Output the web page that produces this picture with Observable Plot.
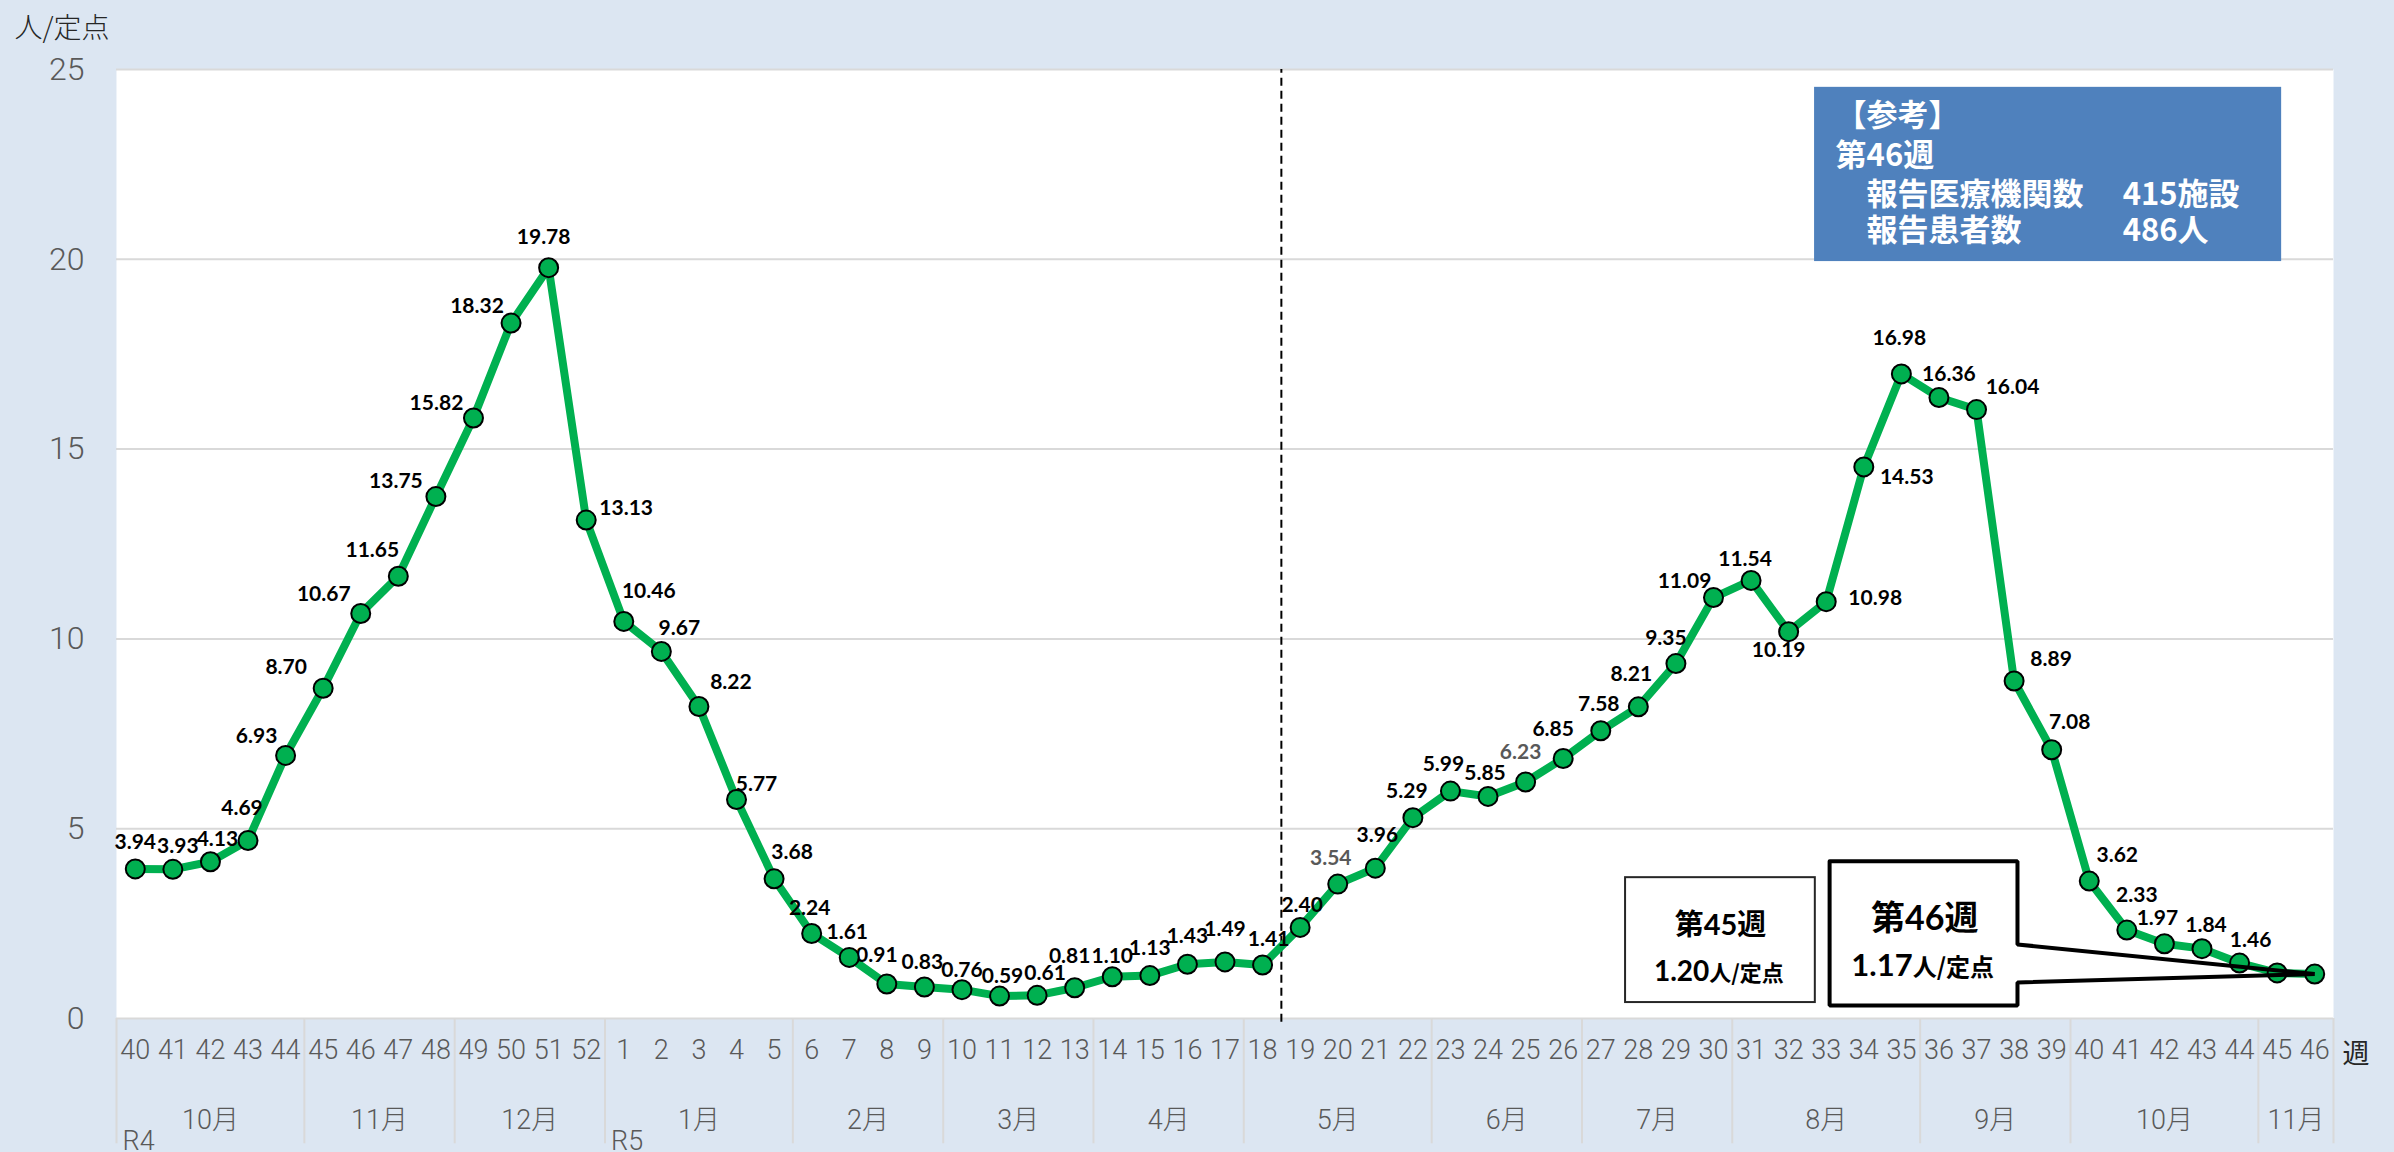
<!DOCTYPE html>
<html><head><meta charset="utf-8">
<script src="https://cdn.jsdelivr.net/npm/d3@7"></script>
<script src="https://cdn.jsdelivr.net/npm/@observablehq/plot@0.6"></script>
<style>
html,body{margin:0;padding:0;background:#dce6f2;}
#chart svg{display:block;}
</style></head><body><div id="chart"></div>
<script>
// ---- data ----
const weeksR4 = [40,41,42,43,44,45,46,47,48,49,50,51,52];
const valuesR4 = [3.94,3.93,4.13,4.69,6.93,8.70,10.67,11.65,13.75,15.82,18.32,19.78,13.13];
const weeksR5 = [1,2,3,4,5,6,7,8,9,10,11,12,13,14,15,16,17,18,19,20,21,22,23,24,25,26,27,28,29,30,31,32,33,34,35,36,37,38,39,40,41,42,43,44,45,46];
const valuesR5 = [10.46,9.67,8.22,5.77,3.68,2.24,1.61,0.91,0.83,0.76,0.59,0.61,0.81,1.10,1.13,1.43,1.49,1.41,2.40,3.54,3.96,5.29,5.99,5.85,6.23,6.85,7.58,8.21,9.35,11.09,11.54,10.19,10.98,14.53,16.98,16.36,16.04,8.89,7.08,3.62,2.33,1.97,1.84,1.46,1.20,1.17];
const monthNames = ["10月","11月","12月","1月","2月","3月","4月","5月","6月","7月","8月","9月","10月","11月"];
const monthWeekCounts = [5,4,4,5,4,4,4,5,4,4,5,4,5,2];
const eraNames = ["R4","R5"];
const yTicks = [0,5,10,15,20,25];
const grayLabelWeeksR5 = [20,25];
const infoLines = ["【参考】","第46週","報告医療機関数","報告患者数"];
const infoValues = ["415施設","486人"];
const prevWeek = {title:"第45週", value:"1.20", unit:"人/定点"};
const currWeek = {title:"第46週", value:"1.17", unit:"人/定点"};

// label offsets (px) per point: [dx, dy]
const labelOffsets = [
 [0,-27],[5,-23],[7,-22],[-6,-32],[-29,-19],[-37,-21],[-37,-19],[-26,-26],[-40,-15],[-37,-15],[-34,-17],[-5,-30],[40,-12],
 [25,-30],[18,-23],[32,-24],[20,-15],[18,-27],[-2,-25],[-2,-25],[-10,-29],[-2,-25],[0,-19],[3,-20],[8,-22],[-5,-31],
 [0,-20],[0,-27],[0,-28],[0,-33],[6,-26],[2,-22],[-7,-26],[2,-33],[-6,-26],[-7,-27],[-3,-23],[-5,-30],[-10,-29],
 [-2,-26],[-7,-33],[-10,-25],[-29,-16],[-6,-21],[-10,19],[49,-3],[43,10],[-2,-36],[10,-23],[36,-22],[37,-22],
 [18,-27],[28,-26],[10,-35],[-7,-25],[4,-23],[11,-23],null,null
];

// ---- derived tables ----
const rows = [
  ...weeksR4.map((w,k)=>({era:"R4", week:w, value:valuesR4[k]})),
  ...weeksR5.map((w,k)=>({era:"R5", week:w, value:valuesR5[k]}))
].map((d,i)=>({...d, i}));

const months = [];
{ let s = 0; monthNames.forEach((m,k)=>{ const n = monthWeekCounts[k]; months.push({name:m, start:s, end:s+n-1, center:(2*s+n-1)/2}); s += n; }); }
const boundaries = [...months.map(m=>m.start-0.5), months[months.length-1].end+0.5];
const eras = eraNames.map(e=>({name:e, at: rows.find(r=>r.era===e).i - 0.5}));
const splitAt = rows.find(r=>r.era==="R5" && r.week===19).i - 0.5;
const last = rows[rows.length-1];

const NUM = "Lato, 'Noto Sans CJK JP', sans-serif";
const TICK = "Roboto, 'Noto Sans CJK JP', sans-serif";
const JP = "'Noto Sans CJK JP', sans-serif";

const labelMarks = rows.filter(d=>labelOffsets[d.i]).map(d=>Plot.text([d], {
  x:"i", y:"value", text: r=>r.value.toFixed(2),
  dx: labelOffsets[d.i][0], dy: labelOffsets[d.i][1],
  fontSize: 21, fontWeight: "bold", fontFamily: NUM,
  fill: (d.era==="R5" && grayLabelWeeksR5.includes(d.week)) ? "#595959" : "#000"
}));

// annotation geometry (data units)
const info = {x1:44.69, x2:57.12, y1:19.94, y2:24.53};
const box1 = {x1:39.66, x2:44.71, y1:0.42, y2:3.71};
const box2 = {x1:45.09, x2:50.09, y1:0.34, y2:4.14, wTop:1.95, wBot:0.95};
const callout = [
  [box2.x1,box2.y2],[box2.x2,box2.y2],[box2.x2,box2.wTop],[last.i,last.value],
  [box2.x2,box2.wBot],[box2.x2,box2.y1],[box2.x1,box2.y1],[box2.x1,box2.y2]
];

const infoText = (t, x, y) => Plot.text([t], {x, y, text: d=>d, textAnchor: "start", lineAnchor: "bottom", fontSize: 31, fontWeight: "bold", fontFamily: JP, fill: "white"});

const plot = Plot.plot({
  width: 2394, height: 1152,
  marginLeft: 116, marginRight: 61, marginTop: 69, marginBottom: 134,
  style: {background: "#dce6f2", overflow: "visible"},
  x: {type: "linear", domain: [-0.5, 58.5], axis: null},
  y: {type: "linear", domain: [0, 25], axis: null},
  marks: [
    Plot.frame({fill: "white", stroke: null}),
    Plot.ruleY(yTicks, {stroke: "#d9d9d9", strokeWidth: 2}),
    Plot.ruleX(boundaries, {y1: 0, y2: -3.3, stroke: "#d9d9d9", strokeWidth: 2}),
    Plot.ruleX([splitAt], {y1: -0.1, y2: 25, stroke: "#000", strokeWidth: 2, strokeDasharray: "8,5"}),
    // y tick labels
    Plot.text(yTicks, {y: d=>d, frameAnchor: "left", dx: -32, textAnchor: "end", text: d=>String(d), fontSize: 32, fontWeight: 300, fontFamily: TICK, fill: "#595959"}),
    Plot.text(["人/定点"], {frameAnchor: "top-left", dx: -102, dy: -51, textAnchor: "start", text: d=>d, fontSize: 28, fontWeight: 300, fontFamily: JP, fill: "#262626"}),
    // week labels
    Plot.text(rows, {x: "i", frameAnchor: "bottom", dy: 40, text: d=>String(d.week), fontSize: 27, fontWeight: 300, fontFamily: TICK, fill: "#595959"}),
    // month labels
    Plot.text(months, {x: "center", frameAnchor: "bottom", dy: 110, text: "name", fontSize: 27, fontWeight: 300, fontFamily: TICK, fill: "#595959"}),
    Plot.text(eras, {x: "at", frameAnchor: "bottom", dy: 131, dx: 6, textAnchor: "start", lineAnchor: "bottom", text: "name", fontSize: 27, fontWeight: 300, fontFamily: TICK, fill: "#595959"}),
    Plot.text(["週"], {frameAnchor: "bottom-right", dx: 36, dy: 44, text: d=>d, fontSize: 27, fontFamily: JP, fill: "#262626"}),
    // info box
    Plot.rect([info], {x1:"x1", x2:"x2", y1:"y1", y2:"y2", fill: "#4f81bd"}),
    infoText(infoLines[0], 45.25, 23.50),
    infoText(infoLines[1], 45.25, 22.47),
    infoText(infoLines[2], 46.07, 21.42),
    infoText(infoLines[3], 46.07, 20.47),
    infoText(infoValues[0], 52.89, 21.42),
    infoText(infoValues[1], 52.89, 20.47),
    // previous-week box
    Plot.rect([box1], {x1:"x1", x2:"x2", y1:"y1", y2:"y2", fill: "white", stroke: "#262626", strokeWidth: 2}),
    Plot.text([prevWeek.title], {x: (box1.x1+box1.x2)/2, y: 2.19, text: d=>d, lineAnchor: "bottom", fontSize: 29, fontWeight: "bold", fontFamily: NUM, fill: "#000"}),
    Plot.text([prevWeek.value], {x: 41.89, y: 1.0, text: d=>d, textAnchor: "end", lineAnchor: "bottom", fontSize: 28, fontWeight: "bold", fontFamily: NUM, fill: "#000"}),
    Plot.text([prevWeek.unit], {x: 41.89, y: 1.0, text: d=>d, textAnchor: "start", lineAnchor: "bottom", fontSize: 22, fontWeight: "bold", fontFamily: JP, fill: "#000"}),
    // current-week callout fill
    Plot.rect([box2], {x1:"x1", x2:"x2", y1:"y1", y2:"y2", fill: "white"}),
    Plot.text([currWeek.title], {x: 47.62, y: 2.34, text: d=>d, lineAnchor: "bottom", fontSize: 34, fontWeight: "bold", fontFamily: NUM, fill: "#000"}),
    Plot.text([currWeek.value], {x: 47.30, y: 1.13, text: d=>d, textAnchor: "end", lineAnchor: "bottom", fontSize: 31, fontWeight: "bold", fontFamily: NUM, fill: "#000"}),
    Plot.text([currWeek.unit], {x: 47.30, y: 1.13, text: d=>d, textAnchor: "start", lineAnchor: "bottom", fontSize: 24, fontWeight: "bold", fontFamily: JP, fill: "#000"}),
    // data
    Plot.line(rows, {x: "i", y: "value", stroke: "#00b050", strokeWidth: 8, strokeLinejoin: "round"}),
    ...labelMarks,
    Plot.dot(rows, {x: "i", y: "value", r: 9.5, fill: "#00b050", stroke: "#000", strokeWidth: 2}),
    // callout outline on top
    Plot.line(callout, {x: d=>d[0], y: d=>d[1], stroke: "#000", strokeWidth: 4, strokeLinejoin: "miter"})
  ]
});
document.getElementById("chart").appendChild(plot);
</script>
</body></html>
